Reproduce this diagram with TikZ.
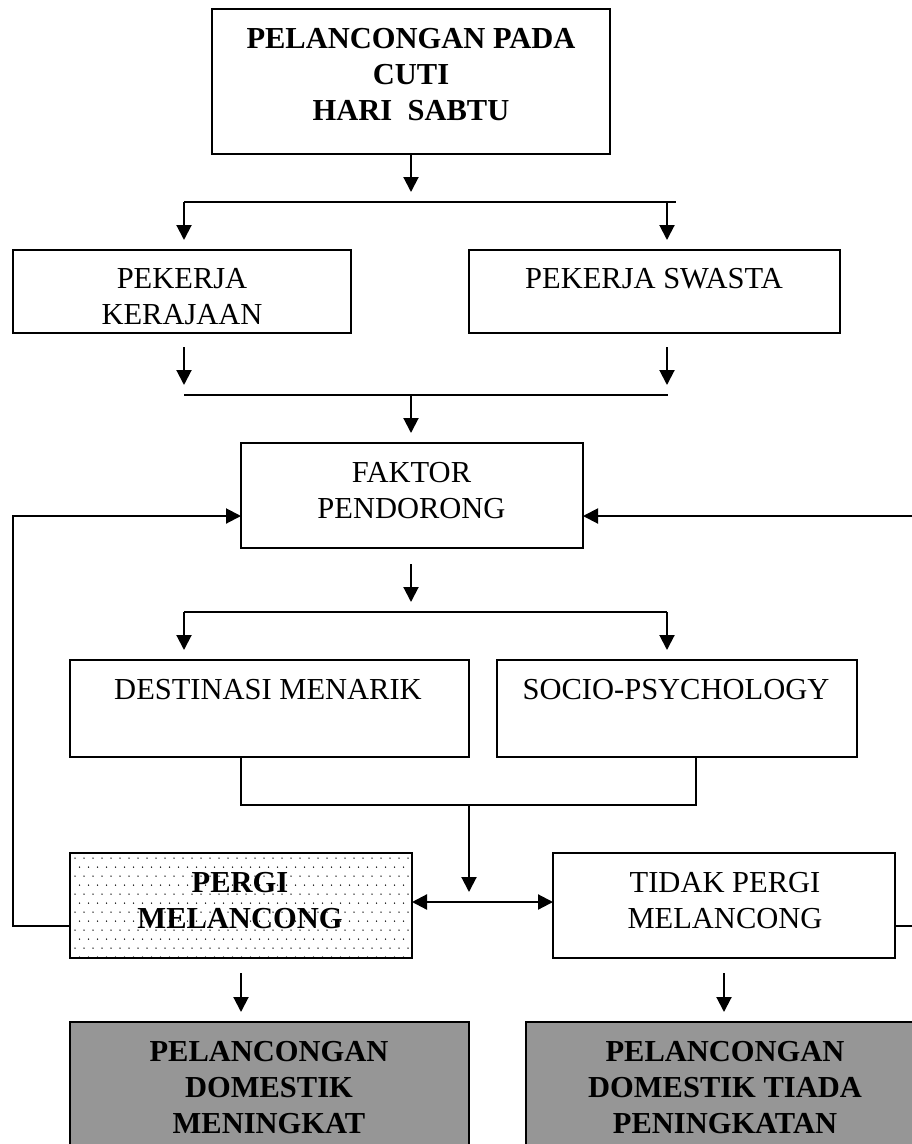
\documentclass[tikz,border=0pt]{standalone}
\usepackage{fontspec}
\setmainfont{Liberation Serif}
\usetikzlibrary{arrows.meta}
\definecolor{boxgray}{HTML}{969696}
\tikzset{
  box/.style={draw=black, line width=2pt, rectangle, inner sep=0pt, outer sep=0pt},
  graybox/.style={box, fill=boxgray},
  txt/.style={align=center, inner sep=0pt, font=\fontsize{30.5}{36}\selectfont},
  btxt/.style={txt, font=\fontsize{30.5}{36}\selectfont\bfseries},
  arr/.style={line width=2pt, -{Triangle[length=15pt,width=15pt]}},
  darr/.style={line width=2.2pt, {Triangle[length=15pt,width=15pt]}-{Triangle[length=15pt,width=15pt]}},
  ln/.style={line width=2pt},
  jl/.style={line width=2.4pt},
}
\begin{document}
\begin{tikzpicture}[x=1pt,y=-1pt]
\useasboundingbox (0,0) rectangle (912,1144);
\clip (0,0) rectangle (912,1144);
\fill[white] (0,0) rectangle (912,1144);

% boxes
\node[box, minimum width=398pt, minimum height=145pt] (top) at (411,81.5) {};
\node[box, minimum width=338pt, minimum height=83pt] (pk) at (182,291.5) {};
\node[box, minimum width=371pt, minimum height=83pt] (ps) at (654.5,291.5) {};
\node[box, minimum width=342pt, minimum height=105pt] (fp) at (412,495.5) {};
\node[box, minimum width=399pt, minimum height=97pt] (dm) at (269.5,708.5) {};
\node[box, minimum width=360pt, minimum height=97pt] (sp) at (677,708.5) {};
\node[box, minimum width=342pt, minimum height=105pt] (pm) at (241,905.5) {};
\node[box, minimum width=342pt, minimum height=105pt] (tp) at (724,905.5) {};
\node[graybox, minimum width=399pt, minimum height=138pt] (bl) at (269.5,1091) {};
\node[graybox, minimum width=398pt, minimum height=138pt] (br) at (725,1091) {};

% dotted fill of PERGI MELANCONG
\begin{scope}
\clip (71,854) rectangle (411,957);
\foreach \i in {0,...,38} {
  \foreach \j in {0,...,11} {
    \fill[black] ({75+9*\i+4.5*mod(\j,2)},{858+9*\j}) circle (0.75pt);
  }
}
\end{scope}
\draw[line width=2pt] (pm.north west) rectangle (pm.south east);

% texts
\node[btxt] (ttop) at (411,75) {PELANCONGAN PADA\\CUTI\\HARI\ \ SABTU};
\node[txt] (tpk) at (182,296.5) {PEKERJA\\KERAJAAN};
\node[txt] (tps) at (654,279) {PEKERJA SWASTA};
\node[txt] (tfp) at (411.5,490.5) {FAKTOR\\PENDORONG};
\node[txt] (tdm) at (268,690) {DESTINASI MENARIK};
\node[txt] (tsp) at (676,690) {SOCIO-PSYCHOLOGY};
\node[btxt] (tpm) at (240,901) {PERGI\\MELANCONG};
\node[txt] (ttp) at (725,901) {TIDAK PERGI\\MELANCONG};
\node[btxt] (tbl) at (269,1088) {PELANCONGAN\\DOMESTIK\\MENINGKAT};
\node[btxt] (tbr) at (725,1088) {PELANCONGAN\\DOMESTIK TIADA\\PENINGKATAN};

% coordinates
\coordinate (a1) at (411,192);
\coordinate (j1l) at (184,202);
\coordinate (j1m) at (411,202);
\coordinate (j1r) at (676,202);
\coordinate (j1rr) at (667,202);
\coordinate (a2l) at (184,240);
\coordinate (a2r) at (667,240);
\coordinate (s3l) at (184,347);
\coordinate (s3r) at (667,347);
\coordinate (a3l) at (184,385);
\coordinate (a3r) at (667,385);
\coordinate (j2l) at (184,395);
\coordinate (j2r) at (668,395);
\coordinate (j2m) at (411,395);
\coordinate (a4) at (411,433);
\coordinate (s5) at (411,564);
\coordinate (a5) at (411,602);
\coordinate (j3l) at (184,612);
\coordinate (j3r) at (667,612);
\coordinate (a6l) at (184,650);
\coordinate (a6r) at (667,650);
\coordinate (m1) at (241,805);
\coordinate (m2) at (696,805);
\coordinate (m3) at (469,805);
\coordinate (a7) at (469,892);
\coordinate (da) at (469,902);
\coordinate (fbL) at (13,926);
\coordinate (fbLT) at (13,516);
\coordinate (fbR) at (920,926);
\coordinate (fbRT) at (920,516);
\coordinate (s8l) at (241,973);
\coordinate (a8l) at (241,1012);
\coordinate (s8r) at (724,973);
\coordinate (a8r) at (724,1012);

% connectors
\draw[arr] (top.south) -- (a1);
\draw[jl] (j1l) -- (j1r);
\draw[arr] (j1l) -- (a2l);
\draw[arr] (j1rr) -- (a2r);
\draw[arr] (s3l) -- (a3l);
\draw[arr] (s3r) -- (a3r);
\draw[jl] (j2l) -- (j2r);
\draw[arr] (j2m) -- (a4);
\draw[arr] (s5) -- (a5);
\draw[jl] (j3l) -- (j3r);
\draw[arr] (j3l) -- (a6l);
\draw[arr] (j3r) -- (a6r);
\draw[ln] (dm.south -| m1) -- (m1) -- (m2) -- (sp.south -| m2);
\draw[arr] (m3) -- (a7);
\draw[darr] (pm.east |- da) -- (tp.west |- da);
\draw[arr] (pm.west |- fbL) -- (fbL) -- (fbLT) -- (fp.west |- fbLT);
\draw[arr] (tp.east |- fbR) -- (fbR) -- (fbRT) -- (fp.east |- fbRT);
\draw[arr] (s8l) -- (a8l);
\draw[arr] (s8r) -- (a8r);
\end{tikzpicture}
\end{document}
